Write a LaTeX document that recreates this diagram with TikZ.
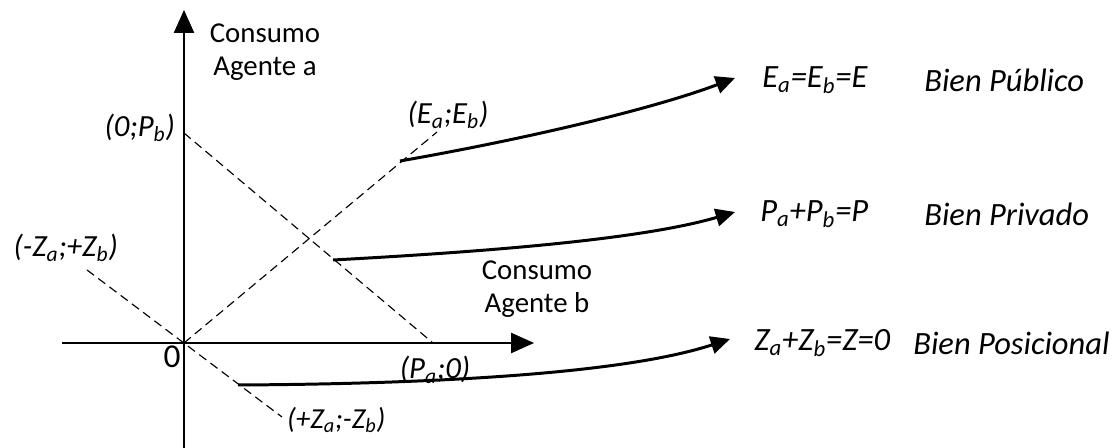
\documentclass[tikz,border=0pt]{standalone}
\usepackage{fontspec}
\setmainfont{Carlito}
\usetikzlibrary{arrows.meta, positioning, calc}

\begin{document}
\begin{tikzpicture}[
  x=0.02cm, y=-0.02cm,
  font=\fontsize{16.4}{18.7}\selectfont,
  texto/.style={align=center, inner sep=1pt},
  punto/.style={font=\fontsize{17.5}{19}\selectfont\itshape, inner sep=1pt},
  bien/.style={font=\fontsize{18.5}{20}\selectfont\itshape, inner sep=0pt, anchor=west},
  ejeline/.style={draw=black, line width=0.75pt},
  ejear/.style={ejeline, -{Triangle[length=13pt,width=11.5pt]}},
  discont/.style={draw=black, line width=0.65pt, dash pattern=on 5pt off 3pt},
  flecha/.style={draw=black, line width=1.7pt, -{Triangle[length=11pt,width=10pt]}}
]
\useasboundingbox (0,0) rectangle (1118,448);

%--------------------------------------------------------------
% Ejes
%--------------------------------------------------------------
\coordinate (origen) at (184,343);
\coordinate (ybajo) at (184,448);
\coordinate (yalto) at (184,10);
\coordinate (xizq) at (62,343);
\coordinate (xder) at (534,343);
\draw[ejear] (ybajo) -- (yalto);
\draw[ejear] (xizq) -- (xder);

\node[texto] (ejea) at (265,52) {Consumo\\ Agente a};
\node[texto] (ejeb) at (537,289) {Consumo\\ Agente b};
\node[font=\fontsize{19}{21}\selectfont, inner sep=0pt] (cero) at (172,357) {0};

%--------------------------------------------------------------
% Rectas discontinuas
%--------------------------------------------------------------
\coordinate (pb) at (184,133);
\coordinate (pa) at (433,343);
\coordinate (ee) at (437,132);
\coordinate (zneg) at (87,270);
\coordinate (zpos) at (282,417);
\draw[discont] (pb) -- (pa);
\draw[discont] (origen) -- (ee);
\draw[discont] (zneg) -- (zpos);

\node[punto, anchor=east] (lpb) at (177,128) {(0;P\textsubscript{b})};
\node[punto] (lee) at (448,115) {(E\textsubscript{a};E\textsubscript{b})};
\node[punto, anchor=east] (lzneg) at (120,248) {(-Z\textsubscript{a};+Z\textsubscript{b})};
\node[punto, anchor=west, font=\fontsize{16.5}{18}\selectfont\itshape] (lzpos) at (285,420) {(+Z\textsubscript{a};-Z\textsubscript{b})};
\node[punto] (lpa) at (435,370) {(P\textsubscript{a};0)};

%--------------------------------------------------------------
% Tipos de bien
%--------------------------------------------------------------
\foreach \n/\y/\xe/\ec/\xb/\nombre in {%
  pub/80/762/{E\textsubscript{a}=E\textsubscript{b}=E}/924/{Bien Público},
  pri/214/760/{P\textsubscript{a}+P\textsubscript{b}=P}/924/{Bien Privado},
  pos/343/754/{Z\textsubscript{a}+Z\textsubscript{b}=Z=0}/913/{Bien Posicional}}{
  \node[bien] (ec\n) at (\xe,\y) {\ec};
  \node[bien] (bien\n) at (\xb,\y) {\nombre};
}

%--------------------------------------------------------------
% Flechas curvas
%--------------------------------------------------------------
\coordinate (s1) at (400,161);
\coordinate (t1) at (735,78);
\coordinate (s2) at (333,260);
\coordinate (t2) at (735,212);
\coordinate (s3) at (238,385);
\coordinate (t3) at (730,339);
\draw[flecha] (s1) .. controls (520,140) and (650,110) .. (t1);
\draw[flecha] (s2) .. controls (480,252) and (640,240) .. (t2);
\draw[flecha] (s3) .. controls (420,384) and (620,375) .. (t3);

\end{tikzpicture}
\end{document}
